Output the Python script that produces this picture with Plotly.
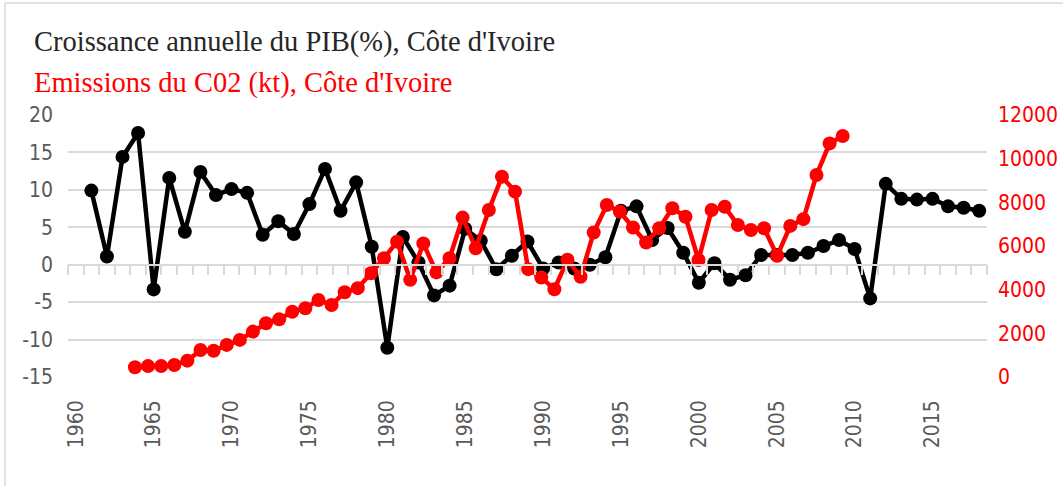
import plotly.graph_objects as go

# GDP growth (%) 1961-2018
gdp_years = list(range(1961, 2019))
gdp_growth = [9.9, 1.1, 14.4, 17.6, -3.3, 11.6, 4.4, 12.4, 9.3, 10.1,
              9.6, 4.0, 5.8, 4.1, 8.1, 12.8, 7.2, 11.0, 2.4, -11.1,
              3.7, 0.3, -4.1, -2.8, 4.8, 3.2, -0.6, 1.2, 3.1, -0.5,
              0.3, -0.5, 0.0, 1.0, 7.2, 7.8, 3.3, 4.9, 1.6, -2.4,
              0.2, -2.0, -1.4, 1.3, 1.3, 1.3, 1.6, 2.5, 3.3, 2.1,
              -4.5, 10.8, 8.8, 8.7, 8.8, 7.8, 7.6, 7.2]

# CO2 emissions (kt) 1960-2014
co2_years = list(range(1960, 2015))
co2_kt = [450, 500, 500, 550, 750, 1240, 1200, 1470, 1700, 2080,
          2460, 2640, 2990, 3150, 3530, 3300, 3880, 4070, 4750, 5440,
          6200, 4450, 6120, 4790, 5440, 7300, 5900, 7650, 9170, 8490,
          4940, 4560, 4020, 5370, 4590, 6620, 7880, 7570, 6850, 6160,
          6810, 7730, 7340, 5360, 7650, 7800, 6960, 6730, 6810, 5550,
          6920, 7230, 9250, 10700, 11040]

label_years = list(range(1960, 2016, 5))
category_edges = [y - 0.5 for y in range(1960, 2020)]
gdp_ticks = [20, 15, 10, 5, 0, -5, -10, -15]
co2_ticks = [0, 2000, 4000, 6000, 8000, 10000, 12000]

title_gdp = "Croissance annuelle du PIB(%), Côte d'Ivoire"
title_co2 = "Emissions du C02 (kt), Côte d'Ivoire"

W, H = 1063, 486
ml, mr, mt, mb = 68, 76, 115, 109
pw, ph = W - ml - mr, H - mt - mb

def px_x(px):
    return (px - ml) / pw

def px_y(py):
    return (H - mb - py) / ph

tick_font = dict(family="Liberation Sans Narrow, DejaVu Sans Condensed, Arial Narrow, Liberation Sans", size=21)
grey = "#595959"
grid = "#d9d9d9"

fig = go.Figure()

fig.add_trace(go.Scatter(
    x=gdp_years, y=gdp_growth, mode="lines+markers",
    line=dict(color="black", width=4.5), marker=dict(color="black", size=14),
    xaxis="x", yaxis="y", showlegend=False, hoverinfo="x+y"))

fig.add_trace(go.Scatter(
    x=label_years, y=[None] * len(label_years), mode="markers",
    xaxis="x3", yaxis="y", showlegend=False, hoverinfo="skip"))

fig.add_trace(go.Scatter(
    x=co2_years, y=co2_kt, mode="lines+markers",
    line=dict(color="#ff0000", width=4.5), marker=dict(color="#ff0000", size=14),
    xaxis="x2", yaxis="y2", showlegend=False, hoverinfo="x+y"))

fig.update_layout(
    width=W, height=H,
    margin=dict(l=ml, r=mr, t=mt, b=mb, autoexpand=False),
    paper_bgcolor="white", plot_bgcolor="white",
    xaxis=dict(range=[1959.5, 2018.5], anchor="free", position=15 / 35,
               showgrid=False, zeroline=False, showline=True, linecolor=grid, linewidth=1.5,
               ticks="outside", tickvals=category_edges, ticklen=10, tickcolor=grid, tickwidth=1.5,
               showticklabels=False),
    xaxis3=dict(range=[1959.5, 2018.5], overlaying="x", anchor="y", side="bottom",
                showgrid=False, zeroline=False, showline=False, ticks="",
                tickvals=label_years, ticktext=[str(y) for y in label_years],
                tickangle=-90, tickfont=dict(color=grey, **tick_font), ticklabelstandoff=18),
    xaxis2=dict(range=[1954.89, 2025.01], overlaying="x", visible=False),
    yaxis=dict(range=[-15, 20], tickvals=gdp_ticks, ticktext=[str(v) for v in gdp_ticks],
               showgrid=True, gridcolor=grid, gridwidth=1.5,
               zeroline=False, showline=False, ticks="",
               tickfont=dict(color=grey, **tick_font), ticklabelstandoff=14),
    yaxis2=dict(range=[0, 12000], tickvals=co2_ticks, ticktext=[str(v) for v in co2_ticks],
                overlaying="y", side="right", anchor="x",
                showgrid=False, zeroline=False, showline=False, ticks="",
                tickfont=dict(color="#ff0000", **tick_font), ticklabelstandoff=10),
    annotations=[
        dict(text=title_gdp, xref="paper", yref="paper", x=px_x(32), y=px_y(42),
             xanchor="left", yanchor="middle", showarrow=False,
             font=dict(family="Liberation Serif, Times New Roman, serif", size=28.5, color="#262626")),
        dict(text=title_co2, xref="paper", yref="paper", x=px_x(32), y=px_y(83),
             xanchor="left", yanchor="middle", showarrow=False,
             font=dict(family="Liberation Serif, Times New Roman, serif", size=28.5, color="#ff0000")),
    ],
    shapes=[
        dict(type="line", xref="paper", yref="paper", x0=px_x(5), x1=px_x(1063), y0=px_y(3), y1=px_y(3),
             line=dict(color=grid, width=1.5)),
        dict(type="line", xref="paper", yref="paper", x0=px_x(5), x1=px_x(5), y0=px_y(3), y1=px_y(486),
             line=dict(color=grid, width=1.5)),
    ],
)

fig.write_html("out.html", config={"displayModeBar": False},
               post_script="document.body.style.margin='0px';document.body.style.overflow='hidden';")
